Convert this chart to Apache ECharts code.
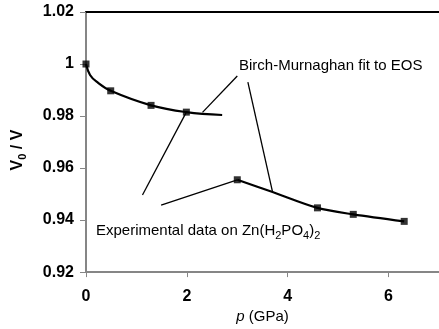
<!DOCTYPE html>
<html>
<head>
<meta charset="utf-8">
<script src="https://cdn.jsdelivr.net/npm/echarts@6/dist/echarts.min.js"></script>
<style>
  html, body { margin: 0; padding: 0; background: #fff; }
  #chart { width: 439px; height: 329px; }
</style>
</head>
<body>
<div id="chart"></div>
<script>
// experimental points
const expP = [0, 0.49, 1.29, 1.99, 3.0, 4.59, 5.3, 6.31]
const expV = [1.0, 0.9897, 0.9841, 0.9815, 0.9555, 0.9447, 0.9422, 0.9395]

// fit curves
const fitLowP = [0, 0.08, 0.21, 0.49, 1.29, 1.99, 2.7]
const fitLowV = [1.0, 0.9958, 0.9932, 0.9897, 0.9841, 0.9815, 0.9804]
const fitHighP = [3.0, 3.7, 4.59, 5.3, 6.31]
const fitHighV = [0.9555, 0.9508, 0.9447, 0.9422, 0.9395]

// pointer lines from labels, [p, V0/V] pairs
const pointers = [
  [[3.0, 0.99538], [2.31, 0.98142]],
  [[3.21, 0.99308], [3.70, 0.95077]],
  [[1.12, 0.94962], [1.99, 0.9815]],
  [[1.49, 0.94577], [3.0, 0.9555]]
]

const yTicks = [0.92, 1.02, 0.02]
const xTicks = [0, 7, 2]

const zip = (a, b) => a.map((v, i) => [v, b[i]])
const font = 'Liberation Sans, Arial, sans-serif'
const gray = '#868686'

const chart = echarts.init(document.getElementById('chart'))

const pointerSeries = pointers.map(seg => ({
  type: 'line',
  data: seg,
  symbol: 'none',
  lineStyle: { color: '#000', width: 1.3 },
  silent: true,
  z: 1
}))

chart.setOption({
  animation: false,
  textStyle: { fontFamily: font },
  grid: { left: 86, top: 12, bottom: 56, right: -3 },
  xAxis: [{
    type: 'value',
    min: xTicks[0], max: xTicks[1], interval: xTicks[2],
    name: '{i|p} (GPa)',
    nameLocation: 'middle',
    nameGap: 36,
    nameTextStyle: {
      fontSize: 15, color: '#000', fontFamily: font,
      rich: { i: { fontStyle: 'italic', fontSize: 15, fontFamily: font } }
    },
    axisLine: { onZero: false, lineStyle: { color: gray, width: 2 } },
    axisTick: { show: true, length: 5, lineStyle: { color: gray, width: 1 } },
    axisLabel: { color: '#000', fontWeight: 'bold', fontSize: 16, margin: 16, showMaxLabel: false },
    splitLine: { show: false }
  }, {
    type: 'value',
    position: 'top',
    min: xTicks[0], max: xTicks[1],
    axisLine: { show: true, lineStyle: { color: '#000', width: 2 } },
    axisTick: { show: false },
    axisLabel: { show: false },
    splitLine: { show: false }
  }],
  yAxis: {
    type: 'value',
    min: yTicks[0], max: yTicks[1], interval: yTicks[2],
    name: '{v|V}{s|0}{n| / }{v|V}',
    nameLocation: 'middle',
    nameRotate: 90,
    nameGap: 58,
    nameTextStyle: {
      color: '#000',
      padding: [0, 16, 0, 0],
      rich: {
        v: { fontSize: 16, fontWeight: 'bold', fontFamily: font },
        s: { fontSize: 11, fontWeight: 'bold', fontFamily: font, padding: [9, 0, 0, 0] },
        n: { fontSize: 16, fontWeight: 'bold', fontFamily: font }
      }
    },
    axisLine: { show: true, lineStyle: { color: gray, width: 2 } },
    axisTick: { show: true, length: 6, lineStyle: { color: gray, width: 1 } },
    axisLabel: { color: '#000', fontWeight: 'bold', fontSize: 16, margin: 12 },
    splitLine: { show: false }
  },
  series: [
    ...pointerSeries,
    {
      type: 'line',
      data: zip(fitLowP, fitLowV),
      smooth: 0.4,
      symbol: 'none',
      lineStyle: { color: '#000', width: 2.2 },
      z: 2
    },
    {
      type: 'line',
      data: zip(fitHighP, fitHighV),
      smooth: 0.3,
      symbol: 'none',
      lineStyle: { color: '#000', width: 2.2 },
      z: 2
    },
    {
      type: 'scatter',
      data: zip(expP, expV),
      symbol: 'rect',
      symbolSize: 7,
      itemStyle: { color: '#000' },
      z: 3
    }
  ],
  graphic: [
    {
      type: 'text',
      x: 239, y: 66,
      style: {
        text: 'Birch-Murnaghan fit to EOS', font: '15px ' + font, fill: '#000',
        verticalAlign: 'middle'
      }
    },
    {
      type: 'text',
      x: 96, y: 231,
      style: {
        text: 'Experimental data on Zn(H{s|2}PO{s|4}){s|2}',
        font: '15px ' + font,
        fill: '#000',
        verticalAlign: 'middle',
        rich: { s: { fontSize: 11, fontFamily: font, padding: [10, 0, 0, 0] } }
      }
    }
  ]
})
</script>
</body>
</html>
